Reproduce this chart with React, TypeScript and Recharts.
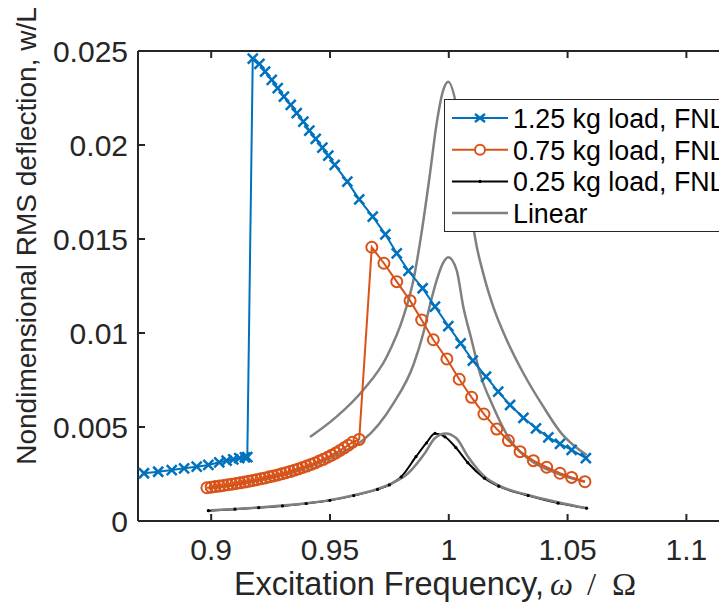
import React from 'react';
import { LineChart, Line, XAxis, YAxis, Legend } from 'recharts';

type Pt = [number, number];

const xDomain: [number, number] = [0.8692, 1.1192];
const yDomain: [number, number] = [0, 0.025];
const xTicks = [0.9, 0.95, 1, 1.05, 1.1];
const yTicks = [0, 0.005, 0.01, 0.015, 0.02, 0.025];

// 1.25 kg load, FNL (lower branch, jump, upper branch)
const load125: Pt[] = [
  [0.8717, 0.00254], [0.8777, 0.00262], [0.8834, 0.00271], [0.8886, 0.0028],
  [0.8939, 0.00289], [0.8988, 0.00298], [0.9034, 0.00312], [0.9065, 0.00321],
  [0.9093, 0.00328], [0.9118, 0.00334], [0.9142, 0.00339], [0.9152, 0.0034],
  [0.9175, 0.02459], [0.9203, 0.02431], [0.9227, 0.0239], [0.9255, 0.02346],
  [0.928, 0.02302], [0.9306, 0.02257], [0.9335, 0.02213], [0.936, 0.02169],
  [0.9388, 0.02124], [0.9413, 0.02076], [0.944, 0.02032], [0.9468, 0.01986],
  [0.9493, 0.01943], [0.952, 0.01894], [0.9573, 0.01805], [0.9623, 0.01711],
  [0.968, 0.01619], [0.9733, 0.01525], [0.9781, 0.01424], [0.983, 0.01331],
  [0.989, 0.01238], [0.9942, 0.0114], [0.9998, 0.01037], [1.005, 0.00945],
  [1.0101, 0.00853], [1.0157, 0.00768], [1.0208, 0.00688], [1.0258, 0.00617],
  [1.0314, 0.00549], [1.0367, 0.00493], [1.0419, 0.00445], [1.0468, 0.0041],
  [1.0517, 0.00378], [1.0577, 0.00334],
];

// 0.75 kg load, FNL
const load075: Pt[] = [
  [0.8982, 0.00177], [0.9, 0.0018], [0.9017, 0.00183], [0.9035, 0.00186],
  [0.9052, 0.00189], [0.907, 0.00193], [0.9087, 0.00196], [0.9105, 0.002],
  [0.9122, 0.00203], [0.914, 0.00207], [0.9157, 0.00211], [0.9175, 0.00216],
  [0.9192, 0.0022], [0.921, 0.00225], [0.9227, 0.00229], [0.9245, 0.00235],
  [0.9262, 0.0024], [0.928, 0.00245], [0.9297, 0.00251], [0.9315, 0.00257],
  [0.9332, 0.00263], [0.935, 0.0027], [0.9367, 0.00277], [0.9385, 0.00285],
  [0.9402, 0.00292], [0.942, 0.00301], [0.9437, 0.00309], [0.9455, 0.00319],
  [0.9472, 0.00328], [0.949, 0.00339], [0.9507, 0.0035], [0.9525, 0.00362],
  [0.9542, 0.00375], [0.956, 0.00389], [0.9577, 0.00403], [0.9595, 0.00419],
  [0.9623, 0.00434],
  [0.9676, 0.01456], [0.9727, 0.01371], [0.9781, 0.01273], [0.9837, 0.01172],
  [0.9886, 0.01069], [0.9935, 0.00964], [0.9992, 0.00862], [1.0044, 0.00754],
  [1.0096, 0.00658], [1.0148, 0.00569], [1.0202, 0.00489], [1.0251, 0.00428],
  [1.03, 0.00369], [1.0356, 0.00321], [1.0412, 0.00286], [1.0468, 0.00254],
  [1.0517, 0.00232], [1.0573, 0.00209],
];

// 0.25 kg load, FNL
const load025: Pt[] = [
  [0.8988, 0.00055], [0.91, 0.00063], [0.92, 0.00071], [0.93, 0.0008],
  [0.94, 0.00093], [0.95, 0.0011], [0.96, 0.00135], [0.97, 0.00168],
  [0.975, 0.00192], [0.98, 0.00235], [0.9862, 0.00342], [0.9906, 0.00415],
  [0.9942, 0.00466], [0.9984, 0.00448], [1.003, 0.0039], [1.008, 0.0031],
  [1.015, 0.00228], [1.021, 0.00185], [1.0334, 0.00135], [1.046, 0.00095],
  [1.058, 0.00068],
];

// Linear responses (one curve per load)
const linear125: Pt[] = [
  [0.9416, 0.00447], [0.9528, 0.00555], [0.964, 0.00697], [0.9739, 0.00874],
  [0.9809, 0.01087], [0.9851, 0.0128], [0.9885, 0.0153], [0.9921, 0.01849],
  [0.9949, 0.02115], [0.9977, 0.02293], [0.9998, 0.02337], [1.0033, 0.02204],
  [1.0061, 0.01973], [1.0089, 0.01707], [1.011, 0.01512], [1.0145, 0.01317],
  [1.0187, 0.0114], [1.0244, 0.00963], [1.0314, 0.00786], [1.0398, 0.00608],
  [1.0475, 0.00465], [1.0525, 0.00403], [1.058, 0.00351],
];

const linear075: Pt[] = [
  [0.8988, 0.00174], [0.91, 0.00192], [0.92, 0.00214], [0.93, 0.00243],
  [0.94, 0.00282], [0.95, 0.00335], [0.958, 0.00385], [0.964, 0.00431],
  [0.9767, 0.00626], [0.9851, 0.0083], [0.9893, 0.01], [0.9921, 0.0115],
  [0.9949, 0.0128], [0.9975, 0.0137], [0.9998, 0.01403], [1.0033, 0.01335],
  [1.0061, 0.0114], [1.0096, 0.00963], [1.0131, 0.00786], [1.0187, 0.00608],
  [1.0258, 0.00431], [1.0342, 0.00324], [1.0454, 0.00254], [1.0573, 0.00209],
];

const linear025: Pt[] = [
  [0.9, 0.00057], [0.91, 0.00064], [0.92, 0.00072], [0.93, 0.00082],
  [0.94, 0.00094], [0.95, 0.00111], [0.96, 0.00137], [0.97, 0.0017],
  [0.975, 0.00195], [0.9829, 0.00254], [0.9899, 0.0036], [0.9941, 0.0044],
  [0.9987, 0.00466], [1.0032, 0.0044], [1.0081, 0.00342], [1.0151, 0.00236],
  [1.0207, 0.00191], [1.0334, 0.00138], [1.046, 0.001], [1.058, 0.00068],
];

const toRows = (pts: Pt[]) => pts.map(([x, y]) => ({ x, y }));

const BLUE = '#0072BD';
const ORANGE = '#D95319';
const GRAY = '#808080';
const AXIS = '#262626';
const FONT = '"Liberation Sans", Arial, sans-serif';
const SERIF = '"Liberation Serif", "Times New Roman", serif';

const BottomTick = ({ x, y, payload }: any) => (
  <g>
    <line x1={x} y1={y} x2={x} y2={y - 7} stroke={AXIS} strokeWidth={2} />
    <text x={x} y={y + 39} textAnchor="middle" fontSize={30} fill={AXIS} fontFamily={FONT}>
      {String(payload.value)}
    </text>
  </g>
);

const TopTick = ({ x, y }: any) => (
  <line x1={x} y1={y} x2={x} y2={y + 7} stroke={AXIS} strokeWidth={2} />
);

const LeftTick = ({ x, y, payload }: any) => (
  <g>
    <line x1={x} y1={y} x2={x + 7} y2={y} stroke={AXIS} strokeWidth={2} />
    <text x={x - 10} y={y + 11} textAnchor="end" fontSize={30} fill={AXIS} fontFamily={FONT}>
      {String(payload.value)}
    </text>
  </g>
);

const RightTick = ({ x, y }: any) => (
  <line x1={x} y1={y} x2={x - 7} y2={y} stroke={AXIS} strokeWidth={2} />
);

const XLabel = ({ viewBox }: any) => (
  <text
    x={viewBox.x + viewBox.width / 2}
    y={viewBox.y + 74}
    textAnchor="middle"
    fontSize={32.5}
    fill={AXIS}
    fontFamily={FONT}
  >
    Excitation Frequency,
    <tspan dx={6} fontFamily={SERIF} fontStyle="italic">ω</tspan>
    <tspan dx={14} fontFamily={SERIF}>/</tspan>
    <tspan dx={16} fontFamily={SERIF}>Ω</tspan>
  </text>
);

const YLabel = ({ viewBox }: any) => {
  const x = viewBox.x - 101;
  const y = 228;
  return (
    <text
      x={x}
      y={y}
      transform={`rotate(-90, ${x}, ${y})`}
      textAnchor="middle"
      fontSize={28}
      fill={AXIS}
      fontFamily={FONT}
    >
      Nondimensional RMS deflection, w/L
    </text>
  );
};

const crossDot = (color: string) => (p: any) => (
  <path
    key={`x${p.index}`}
    d={`M${p.cx - 5},${p.cy - 5}L${p.cx + 5},${p.cy + 5}M${p.cx - 5},${p.cy + 5}L${p.cx + 5},${p.cy - 5}`}
    stroke={color}
    strokeWidth={2.5}
    fill="none"
  />
);

const circleDot = (color: string) => (p: any) => (
  <circle key={`o${p.index}`} cx={p.cx} cy={p.cy} r={5.5} stroke={color} strokeWidth={2} fill="none" />
);

const pointDot = (color: string) => (p: any) => (
  <circle key={`p${p.index}`} cx={p.cx} cy={p.cy} r={1.6} fill={color} stroke="none" />
);

const legendRows = [
  { label: '1.25 kg load, FNL', color: BLUE, mark: 'x' },
  { label: '0.75 kg load, FNL', color: ORANGE, mark: 'o' },
  { label: '0.25 kg load, FNL', color: '#000000', mark: '.' },
  { label: 'Linear', color: GRAY, mark: '' },
];

const renderLegend = () => (
  <div
    style={{
      width: 330,
      height: 133,
      border: `1.5px solid ${AXIS}`,
      background: '#ffffff',
      boxSizing: 'border-box',
    }}
  >
    <svg width={328} height={130}>
      {legendRows.map((r, i) => {
        const cy = 18 + i * 31.7;
        return (
          <g key={r.label}>
            <line x1={7} x2={63} y1={cy} y2={cy} stroke={r.color} strokeWidth={r.mark ? 2 : 2.5} />
            {r.mark === 'x' && (
              <path d={`M30,${cy - 4}L40,${cy + 4}M30,${cy + 4}L40,${cy - 4}`} stroke={r.color} strokeWidth={2.5} />
            )}
            {r.mark === 'o' && <circle cx={35} cy={cy} r={5} stroke={r.color} strokeWidth={2} fill="#fff" />}
            {r.mark === '.' && <circle cx={35} cy={cy} r={1.6} fill={r.color} />}
            <text x={68} y={cy + 10} fontSize={26.8} fill="#000" fontFamily={FONT}>
              {r.label}
            </text>
          </g>
        );
      })}
    </svg>
  </div>
);

const App: React.FC = () => (
  <div style={{ width: 719, height: 597, overflow: 'hidden', position: 'relative', background: '#fff' }}>
    <LineChart width={760} height={597} margin={{ top: 42, right: 35, bottom: 83, left: 129 }}>
      <XAxis
        dataKey="x"
        type="number"
        domain={xDomain}
        ticks={xTicks}
        allowDataOverflow
        interval={0}
        height={1}
        tickSize={0}
        tickMargin={0}
        tickLine={false}
        axisLine={{ stroke: AXIS, strokeWidth: 2 }}
        tick={<BottomTick />}
        label={(props: any) => <XLabel {...props} />}
      />
      <XAxis
        xAxisId="top"
        orientation="top"
        dataKey="x"
        type="number"
        domain={xDomain}
        ticks={xTicks}
        allowDataOverflow
        interval={0}
        height={1}
        tickSize={0}
        tickMargin={0}
        tickLine={false}
        axisLine={{ stroke: AXIS, strokeWidth: 2 }}
        tick={<TopTick />}
      />
      <YAxis
        type="number"
        domain={yDomain}
        ticks={yTicks}
        allowDataOverflow
        interval={0}
        width={1}
        tickSize={0}
        tickMargin={0}
        tickLine={false}
        axisLine={{ stroke: AXIS, strokeWidth: 2 }}
        tick={<LeftTick />}
        label={(props: any) => <YLabel {...props} />}
      />
      <YAxis
        yAxisId="right"
        orientation="right"
        type="number"
        domain={yDomain}
        ticks={yTicks}
        allowDataOverflow
        interval={0}
        width={1}
        tickSize={0}
        tickMargin={0}
        tickLine={false}
        axisLine={{ stroke: AXIS, strokeWidth: 2 }}
        tick={<RightTick />}
      />
      <Legend
        layout="vertical"
        align="center"
        verticalAlign="middle"
        content={renderLegend}
        wrapperStyle={{ position: 'absolute', left: 436, top: 91, width: 330, height: 133 }}
      />
      <Line data={toRows(linear125)} dataKey="y" type="monotone" stroke={GRAY} strokeWidth={2.5} dot={false} legendType="none" isAnimationActive={false} />
      <Line data={toRows(linear075)} dataKey="y" type="monotone" stroke={GRAY} strokeWidth={2.5} dot={false} legendType="none" isAnimationActive={false} />
      <Line data={toRows(load025)} dataKey="y" type="monotone" name="0.25 kg load, FNL" stroke="#000000" strokeWidth={2} dot={pointDot('#000000')} isAnimationActive={false} />
      <Line data={toRows(linear025)} dataKey="y" type="monotone" name="Linear" stroke={GRAY} strokeWidth={2.5} dot={false} isAnimationActive={false} />
      <Line data={toRows(load075)} dataKey="y" name="0.75 kg load, FNL" stroke={ORANGE} strokeWidth={2} dot={circleDot(ORANGE)} isAnimationActive={false} />
      <Line data={toRows(load125)} dataKey="y" name="1.25 kg load, FNL" stroke={BLUE} strokeWidth={2} dot={crossDot(BLUE)} isAnimationActive={false} />
    </LineChart>
  </div>
);

export default App;
